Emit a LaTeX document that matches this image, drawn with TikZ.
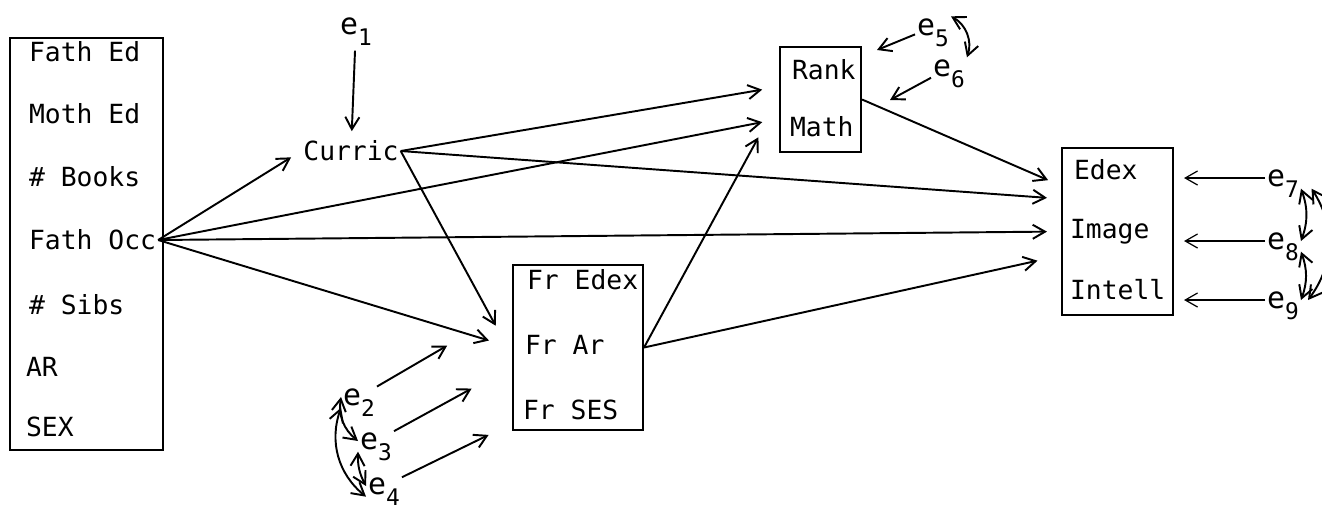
\documentclass[tikz,border=0pt]{standalone}
\usepackage{fontspec}
\usepackage{tikz}
\usetikzlibrary{arrows.meta}
\newfontfamily\typefont{DejaVu Sans Mono}
\newcommand{\ee}[1]{{\fontsize{17}{20}\selectfont e}\raisebox{-6.5pt}[0pt][0pt]{\fontsize{13}{15}\selectfont #1}}

\begin{document}
\begin{tikzpicture}[x=0.02cm, y=-0.02cm, >={Straight Barb[length=7pt,width=8pt]},
    box/.style={draw, line width=1.2pt, inner sep=0pt},
    var/.style={font=\typefont\fontsize{15}{18}\selectfont, inner sep=1pt, anchor=west},
    err/.style={font=\typefont, inner sep=1pt},
    eff/.style={line width=1.1pt, ->},
    dbl/.style={line width=1.1pt, <->}]
    \useasboundingbox (0,0) rectangle (1322,512);
    % 箱
    \node[box, minimum width=3.06cm, minimum height=8.24cm] (BgBox) at (86.5,244) {};
    \node[box, minimum width=1.62cm, minimum height=2.1cm] (RMBox) at (820.5,99.5) {};
    \node[box, minimum width=2.6cm, minimum height=3.3cm] (FrBox) at (578,347.5) {};
    \node[box, minimum width=2.22cm, minimum height=3.34cm] (EIBox) at (1117.5,231.5) {};
    % 変数
    \node[var] (FathEd) at (27,52) {Fath Ed};
    \node[var] (MothEd) at (27,114) {Moth Ed};
    \node[var] (Books) at (27,177) {\# Books};
    \node[var] (FathOcc) at (27,240) {Fath Occ};
    \node[var] (Sibs) at (27,305) {\# Sibs};
    \node[var] (AR) at (24,367) {AR};
    \node[var] (SEX) at (24,427) {SEX};
    \node[var, anchor=center] (Curric) at (351,151) {Curric};
    \node[var] (Rank) at (790,70) {Rank};
    \node[var] (Math) at (788,127) {Math};
    \node[var] (FrEdex) at (525,280) {Fr Edex};
    \node[var] (FrAr) at (523,345) {Fr Ar};
    \node[var] (FrSES) at (521,410) {Fr SES};
    \node[var] (Edex) at (1072,170) {Edex};
    \node[var] (Image) at (1068,232) {Image};
    \node[var] (Intell) at (1068,290) {Intell};
    % 誤差
    \node[err] (e1) at (356,26) {\ee{1}};
    \node[err] (e2) at (359,397) {\ee{2}};
    \node[err] (e3) at (376,441) {\ee{3}};
    \node[err] (e4) at (384,486) {\ee{4}};
    \node[err] (e5) at (933,27) {\ee{5}};
    \node[err] (e6) at (949,68) {\ee{6}};
    \node[err] (e7) at (1283,178) {\ee{7}};
    \node[err] (e8) at (1283,241) {\ee{8}};
    \node[err] (e9) at (1283,300) {\ee{9}};
    \coordinate (r5) at (877,50);
    \coordinate (r6) at (890,100);
    % 経路
    \draw[eff, shorten <=0.28cm, shorten >=0.15cm] (e1) -- (Curric);
    \draw[eff, shorten >=0.24cm] (FathOcc.east) -- (Curric.west);
    \draw[eff, shorten >=0.34cm] (FathOcc.east) -- (RMBox.205);
    \draw[eff, shorten >=0.28cm] (FathOcc.east) -- (EIBox.west);
    \draw[eff, shorten >=0.48cm] (FathOcc.east) -- (FrBox.west);
    \draw[eff, shorten >=0.34cm] (Curric.east) -- (RMBox.163);
    \draw[eff, shorten >=0.28cm] (Curric.east) -- (EIBox.150);
    \draw[eff, shorten >=0.68cm] (Curric.east) -- (FrBox.187);
    \draw[eff, shorten >=0.86cm] (FrBox.east) -- (RMBox.west);
    \draw[eff, shorten >=0.48cm] (FrBox.east) -- (EIBox.203);
    \draw[eff, shorten >=0.28cm] (RMBox.east) -- (EIBox.141);
    \draw[eff, shorten >=1.5cm] (e2) -- (FrBox.149);
    \draw[eff, shorten >=0.92cm] (e3) -- (FrBox.196.5);
    \draw[eff, shorten >=0.52cm] (e4) -- (FrBox.229.6);
    \draw[eff] (e5) -- (r5);
    \draw[eff] (e6) -- (r6);
    \draw[eff, line width=0.7pt, shorten >=0.2cm] (e7) -- (e7 -| EIBox.east);
    \draw[eff, line width=0.7pt, shorten >=0.2cm] (e8) -- (e8 -| EIBox.east);
    \draw[eff, line width=0.7pt, shorten >=0.2cm] (e9) -- (e9 -| EIBox.east);
    % 相関
    \draw[dbl] (e2.west) to[bend right=30] (e3.west);
    \draw[dbl] (e3.south west) to[bend right=15] (e4.west);
    \draw[dbl] (e2.south west) to[bend right=35] (e4.south west);
    \draw[dbl] (e5.north east) to[bend left=40] (e6.north east);
    \draw[dbl] (e7.south east) to[bend left=20] (e8.east);
    \draw[dbl] (e8.south east) to[bend left=20] (e9.east);
    \draw[dbl] ([xshift=6pt]e7.south east) to[bend left=35] ([xshift=4pt]e9.east);
\end{tikzpicture}
\end{document}
